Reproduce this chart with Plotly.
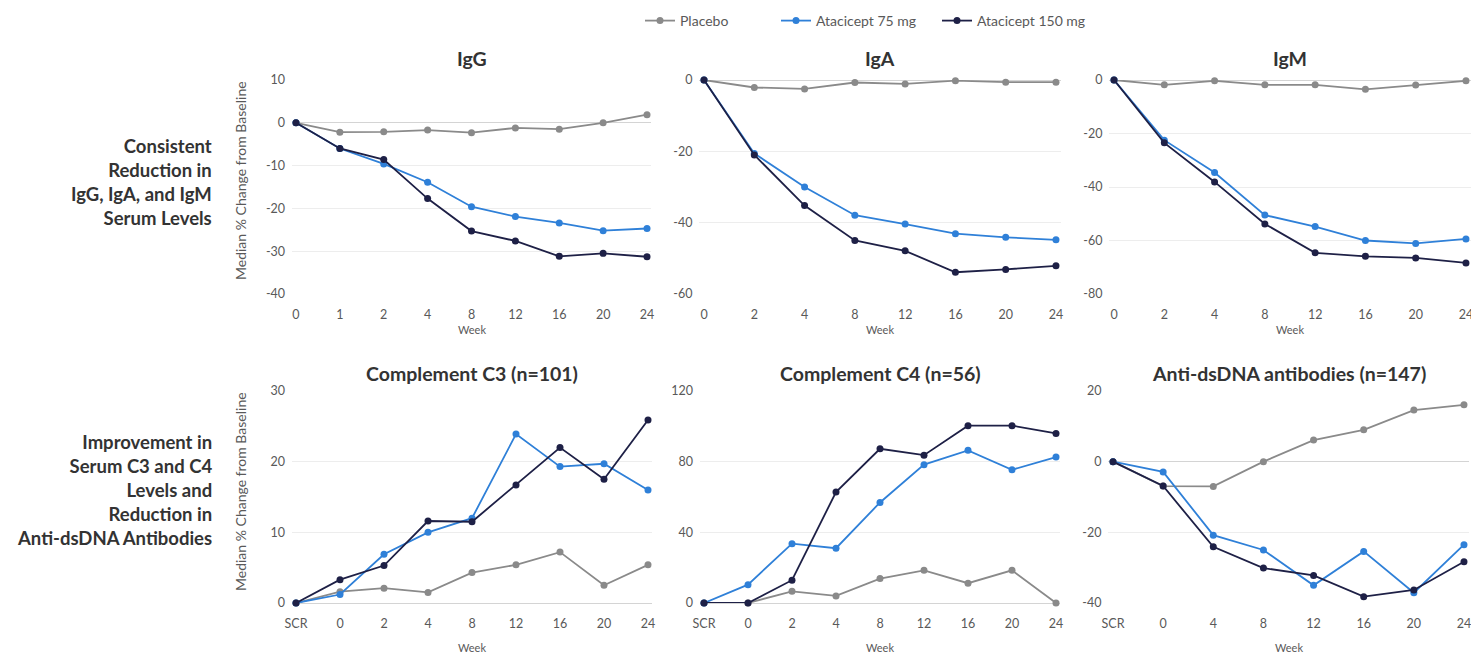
import plotly.graph_objects as go

# ---------------- data ----------------
series_names = ["Placebo", "Atacicept 75 mg", "Atacicept 150 mg"]

igg_weeks = ["0", "1", "2", "4", "8", "12", "16", "20", "24"]
igg_placebo = [0, -2.2, -2.1, -1.7, -2.3, -1.2, -1.5, 0, 1.9]
igg_75 = [0, -6.0, -9.6, -13.9, -19.6, -21.9, -23.4, -25.2, -24.7]
igg_150 = [0, -6.0, -8.6, -17.7, -25.3, -27.6, -31.2, -30.5, -31.3]

iga_weeks = ["0", "2", "4", "8", "12", "16", "20", "24"]
iga_placebo = [0, -2.1, -2.5, -0.7, -1.1, -0.2, -0.6, -0.6]
iga_75 = [0, -20.6, -30.0, -37.9, -40.4, -43.1, -44.1, -44.8]
iga_150 = [0, -21.0, -35.2, -45.0, -47.9, -53.9, -53.1, -52.1]

igm_weeks = ["0", "2", "4", "8", "12", "16", "20", "24"]
igm_placebo = [0, -1.8, -0.3, -1.8, -1.8, -3.5, -1.9, -0.3]
igm_75 = [0, -22.5, -34.6, -50.5, -54.8, -60.0, -61.1, -59.4]
igm_150 = [0, -23.5, -38.1, -53.8, -64.6, -65.9, -66.5, -68.4]

c3_weeks = ["SCR", "0", "2", "4", "8", "12", "16", "20", "24"]
c3_placebo = [0, 1.6, 2.1, 1.5, 4.3, 5.4, 7.2, 2.5, 5.4]
c3_75 = [0, 1.2, 6.9, 10.0, 12.0, 23.9, 19.3, 19.7, 16.0]
c3_150 = [0, 3.3, 5.3, 11.6, 11.5, 16.7, 22.0, 17.5, 25.9]

c4_weeks = ["SCR", "0", "2", "4", "8", "12", "16", "20", "24"]
c4_placebo = [0, 0, 6.6, 4.0, 13.8, 18.5, 11.2, 18.5, 0]
c4_75 = [0, 10.4, 33.6, 31.0, 56.9, 78.3, 86.4, 75.4, 82.6]
c4_150 = [0, 0, 12.9, 62.8, 87.3, 83.7, 100.4, 100.4, 96.0]

dna_weeks = ["SCR", "0", "4", "8", "12", "16", "20", "24"]
dna_placebo = [0, -6.9, -7.0, 0, 6.1, 9.0, 14.6, 16.1]
dna_75 = [0, -2.9, -20.8, -25.0, -35.0, -25.4, -37.1, -23.5]
dna_150 = [0, -6.9, -24.1, -30.1, -32.2, -38.2, -36.3, -28.3]

panel_titles = ["IgG", "IgA", "IgM",
                "Complement C3 (n=101)", "Complement C4 (n=56)", "Anti-dsDNA antibodies (n=147)"]

igg_ticks = [-40, -30, -20, -10, 0, 10]
iga_ticks = [-60, -40, -20, 0]
igm_ticks = [-80, -60, -40, -20, 0]
c3_ticks = [0, 10, 20, 30]
c4_ticks = [0, 40, 80, 120]
dna_ticks = [-40, -20, 0, 20]

row_labels = ["Consistent<br>Reduction in<br>IgG, IgA, and IgM<br>Serum Levels",
              "Improvement in<br>Serum C3 and C4<br>Levels and<br>Reduction in<br>Anti-dsDNA Antibodies"]
y_title = "Median % Change from Baseline"
x_title = "Week"

# ---------------- layout helpers ----------------
W, H = 1471, 654
colors = ["#8a8a8a", "#2f80d8", "#1e2046"]
FONT = "Lato, 'Open Sans', sans-serif"
TICK_COLOR = "#595959"

panels = [
    (igg_weeks, [igg_placebo, igg_75, igg_150], igg_ticks),
    (iga_weeks, [iga_placebo, iga_75, iga_150], iga_ticks),
    (igm_weeks, [igm_placebo, igm_75, igm_150], igm_ticks),
    (c3_weeks, [c3_placebo, c3_75, c3_150], c3_ticks),
    (c4_weeks, [c4_placebo, c4_75, c4_150], c4_ticks),
    (dna_weeks, [dna_placebo, dna_75, dna_150], dna_ticks),
]

x_px = [(291.6, 651.4), (699.0, 1061.0), (1109.0, 1471.0),
        (291.6, 652.4), (699.6, 1060.4), (1108.0, 1469.0)]
y_px = [(80, 294), (80, 294), (80, 294),
        (391, 603), (391, 603), (391, 603)]

fig = go.Figure()
layout = dict(
    template="none",
    width=W, height=H,
    margin=dict(l=0, r=0, t=0, b=0, pad=0),
    paper_bgcolor="white", plot_bgcolor="white",
    font=dict(family=FONT, color=TICK_COLOR, size=12),
    hovermode="closest",
    annotations=[],
)

legend_names = ["legend", "legend2", "legend3"]
legend_x = [640, 776, 937]

for i, (weeks, vals, ticks) in enumerate(panels):
    ax = "" if i == 0 else str(i + 1)
    for s in range(3):
        fig.add_trace(go.Scatter(
            x=weeks, y=vals[s], name=series_names[s],
            mode="lines+markers",
            line=dict(color=colors[s], width=1.8),
            marker=dict(color=colors[s], size=7),
            cliponaxis=False,
            xaxis="x" + ax, yaxis="y" + ax,
            showlegend=(i == 0),
            legend=legend_names[s],
        ))
    n = len(weeks)
    xl, xr = x_px[i]
    yt, yb = y_px[i]
    layout["xaxis" + ax] = dict(
        domain=[xl / W, xr / W], anchor="y" + ax, type="category",
        categoryorder="array", categoryarray=weeks,
        range=[-0.1, n - 1 + 0.1], showgrid=False, zeroline=False,
        showline=False, ticks="outside", ticklen=9, tickcolor="rgba(0,0,0,0)",
        tickfont=dict(size=12.5, color=TICK_COLOR), automargin=False,
        fixedrange=True,
    )
    layout["yaxis" + ax] = dict(
        domain=[1 - yb / H, 1 - yt / H], anchor="x" + ax,
        range=[ticks[0], ticks[-1]], tickvals=ticks,
        ticktext=[str(t) for t in ticks],
        showgrid=True, gridcolor="#ededed", gridwidth=1,
        zeroline=True, zerolinecolor="#d4d4d4", zerolinewidth=1,
        showline=False, ticks="outside", ticklen=3, tickcolor="rgba(0,0,0,0)",
        tickfont=dict(size=12.5, color=TICK_COLOR), automargin=False,
        fixedrange=True,
    )
    cx = (xl + xr) / 2 / W
    title_y = 59 if i < 3 else 373
    layout["annotations"].append(dict(
        text="<b>" + panel_titles[i] + "</b>", x=cx, y=1 - title_y / H,
        xref="paper", yref="paper", showarrow=False,
        xanchor="center", yanchor="middle",
        font=dict(size=19.5, color="#333333", family=FONT),
    ))
    week_y = 329 if i < 3 else 647
    layout["annotations"].append(dict(
        text=x_title, x=cx, y=1 - week_y / H, xref="paper", yref="paper",
        showarrow=False, xanchor="center", yanchor="middle",
        font=dict(size=11, color=TICK_COLOR, family=FONT),
    ))

for yc in [181, 492]:
    layout["annotations"].append(dict(
        text=y_title, x=240 / W, y=1 - yc / H, xref="paper", yref="paper",
        showarrow=False, textangle=-90, xanchor="center", yanchor="middle",
        font=dict(size=14, color=TICK_COLOR, family=FONT),
    ))

for lbl, yc in zip(row_labels, [182, 490]):
    layout["annotations"].append(dict(
        text="<b>" + lbl + "</b>", x=214 / W, y=1 - yc / H,
        xref="paper", yref="paper", showarrow=False, align="right",
        xanchor="right", yanchor="middle",
        font=dict(size=18.5, color="#333333", family=FONT),
    ))

for k, ln in enumerate(legend_names):
    layout[ln] = dict(
        x=legend_x[k] / W, y=1 - 21 / H, xanchor="left", yanchor="middle",
        orientation="h", bgcolor="rgba(0,0,0,0)", itemwidth=30,
        font=dict(size=14, color=TICK_COLOR, family=FONT),
    )

fig.update_layout(**layout)
fig.write_html("out.html", config={"displayModeBar": False},
               post_script="document.body.style.margin='0px';document.body.style.overflow='hidden';")
